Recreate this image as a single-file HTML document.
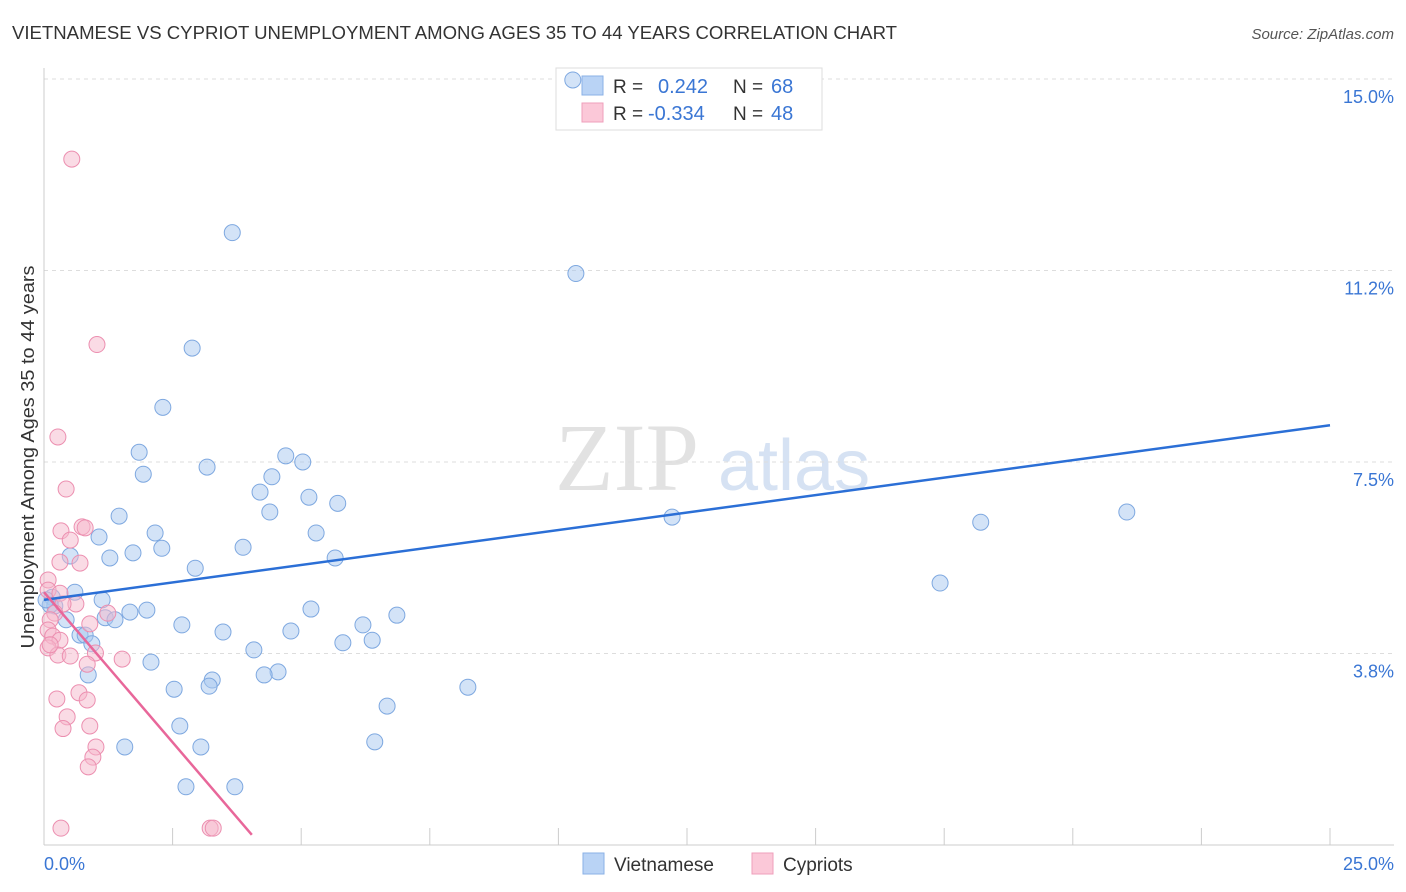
<!DOCTYPE html>
<html><head><meta charset="utf-8"><style>
body{margin:0;background:#fff;font-family:"Liberation Sans",sans-serif;}
svg{display:block}
</style></head><body>
<svg id="c" width="1406" height="892">
<text x="12" y="39" font-size="18" fill="#333" textLength="885" lengthAdjust="spacingAndGlyphs">VIETNAMESE VS CYPRIOT UNEMPLOYMENT AMONG AGES 35 TO 44 YEARS CORRELATION CHART</text>
<text x="1394" y="39" font-size="15" fill="#555" font-style="italic" text-anchor="end">Source: ZipAtlas.com</text>
<text x="0" y="0" transform="translate(34,457) rotate(-90)" font-size="18" fill="#333" text-anchor="middle" textLength="383" lengthAdjust="spacingAndGlyphs">Unemployment Among Ages 35 to 44 years</text>
<text x="555" y="490" font-size="96" fill="#e2e2e2" font-family="Liberation Serif,serif">ZIP</text>
<text x="718" y="490" font-size="72" fill="#d6e2f3">atlas</text>
<g id="grid"></g>
<g>
<rect x="556" y="68" width="266" height="62" fill="#fff" stroke="#ddd"/>
<rect x="582" y="76" width="21" height="19" fill="#b9d3f5" stroke="#8ab0e6"/>
<text x="613" y="93" font-size="19" fill="#333">R =</text><text x="658" y="93" font-size="20" fill="#3a76d4">0.242</text>
<text x="733" y="93" font-size="19" fill="#333">N =</text><text x="771" y="93" font-size="20" fill="#3a76d4">68</text>
<rect x="582" y="103" width="21" height="19" fill="#fbc8d8" stroke="#ef9fbb"/>
<text x="613" y="120" font-size="19" fill="#333">R =</text><text x="648" y="120" font-size="20" fill="#3a76d4">-0.334</text>
<text x="733" y="120" font-size="19" fill="#333">N =</text><text x="771" y="120" font-size="20" fill="#3a76d4">48</text>
</g>
<g id="pts"></g><g id="lines"></g>
<g>
<rect x="583" y="853" width="21" height="21" fill="#b9d3f5" stroke="#8ab0e6"/>
<text x="614" y="871" font-size="19" fill="#333">Vietnamese</text>
<rect x="752" y="853" width="21" height="21" fill="#fbc8d8" stroke="#ef9fbb"/>
<text x="783" y="871" font-size="19" fill="#333">Cypriots</text>
</g>
<text x="44" y="870" font-size="18" fill="#3a76d4">0.0%</text>
<text x="1394" y="870" font-size="18" fill="#3a76d4" text-anchor="end">25.0%</text>
</svg>
<script>
const NS="http://www.w3.org/2000/svg";
const yTicks=[15.0,11.25,7.5,3.75];
const yTickLabels=["15.0%","11.2%","7.5%","3.8%"];
const xTicks=[0,2.5,5,7.5,10,12.5,15,17.5,20,22.5,25];
const blueX=[10.28,3.66,10.34,2.88,2.31,1.85,1.93,3.17,4.7,5.03,4.43,4.2,5.15,5.71,4.39,1.46,2.16,5.29,1.07,3.87,2.29,1.73,1.28,0.51,5.66,2.94,0.6,1.13,2.0,1.67,1.19,1.38,5.19,6.86,6.2,2.68,3.48,4.8,6.38,0.7,0.8,0.16,0.21,0.43,0.93,5.81,4.08,2.08,4.55,4.28,3.27,3.21,2.53,8.24,0.86,6.67,2.64,3.05,6.43,1.57,2.76,3.71,12.21,18.21,21.05,17.42,0.12,0.04];
const blueY=[14.98,11.99,11.19,9.73,8.57,7.69,7.26,7.4,7.62,7.5,7.21,6.91,6.81,6.69,6.52,6.44,6.11,6.11,6.03,5.83,5.81,5.72,5.62,5.66,5.62,5.42,4.95,4.8,4.6,4.56,4.45,4.41,4.62,4.5,4.31,4.31,4.17,4.19,4.01,4.11,4.11,4.85,4.68,4.41,3.94,3.96,3.82,3.58,3.39,3.33,3.23,3.11,3.05,3.09,3.33,2.72,2.33,1.92,2.02,1.92,1.14,1.14,6.42,6.32,6.52,5.13,4.7,4.8];
const pinkX=[0.54,1.03,0.27,0.43,0.33,0.74,0.8,0.51,0.7,0.31,0.08,0.08,0.31,0.62,0.37,0.21,0.12,0.08,0.89,0.17,0.31,0.08,0.27,0.51,1.0,1.52,0.84,1.24,0.68,0.25,0.84,0.45,0.37,0.89,1.01,0.95,0.86,0.33,3.23,3.29,0.12];
const pinkY=[13.43,9.8,7.99,6.97,6.15,6.23,6.21,5.97,5.52,5.54,5.19,4.99,4.93,4.72,4.72,4.54,4.41,4.21,4.33,4.09,4.01,3.86,3.72,3.7,3.76,3.64,3.54,4.54,2.98,2.86,2.84,2.51,2.28,2.33,1.92,1.72,1.53,0.33,0.33,0.33,3.92];
const blueLine=[[0,4.8],[25,8.22]];
const pinkLine=[[0,4.95],[4.04,0.2]];
const X=v=>44+v*51.44, Y=v=>845-v*51.07;
const g=document.getElementById('grid');
function mk(t,a,p){const e=document.createElementNS(NS,t);for(const k in a)e.setAttribute(k,a[k]);p.appendChild(e);return e;}
yTicks.forEach((t,i)=>{
 const l=mk('line',{x1:44,x2:1394,y1:Y(t),y2:Y(t),stroke:'#ddd','stroke-dasharray':'4,4'},g);
 
 
 const tx=mk('text',{x:1394,y:Y(t)+24,'font-size':18,fill:'#3a76d4','text-anchor':'end'},g);
 tx.textContent=yTickLabels[i];
 
 
});
const ax=mk('line',{x1:44,x2:1394,y1:845,y2:845,stroke:'#ccc'},g);


const ay=mk('line',{x1:44,x2:44,y1:68,y2:845,stroke:'#ccc'},g);


xTicks.forEach(t=>{const l=mk('line',{x1:X(t),x2:X(t),y1:828,y2:845,stroke:'#ccc'},g);
 
 });
const p=document.getElementById('pts');
blueX.forEach((x,i)=>{const c=mk('circle',{cx:X(x),cy:Y(blueY[i]),r:8,fill:'rgba(168,200,240,0.5)',stroke:'#7ea8e0','stroke-width':1},p);
 
 });
pinkX.forEach((x,i)=>{const c=mk('circle',{cx:X(x),cy:Y(pinkY[i]),r:8,fill:'rgba(245,184,204,0.5)',stroke:'#ec8fb0','stroke-width':1},p);
 
 });
const L=document.getElementById('lines');
const bl=mk('line',{x1:X(blueLine[0][0]),y1:Y(blueLine[0][1]),x2:X(blueLine[1][0]),y2:Y(blueLine[1][1]),stroke:'#2b6fd6','stroke-width':2.5},L);


const pl=mk('line',{x1:X(pinkLine[0][0]),y1:Y(pinkLine[0][1]),x2:X(pinkLine[1][0]),y2:Y(pinkLine[1][1]),stroke:'#e8679a','stroke-width':2.5},L);


</script>
</body></html>
